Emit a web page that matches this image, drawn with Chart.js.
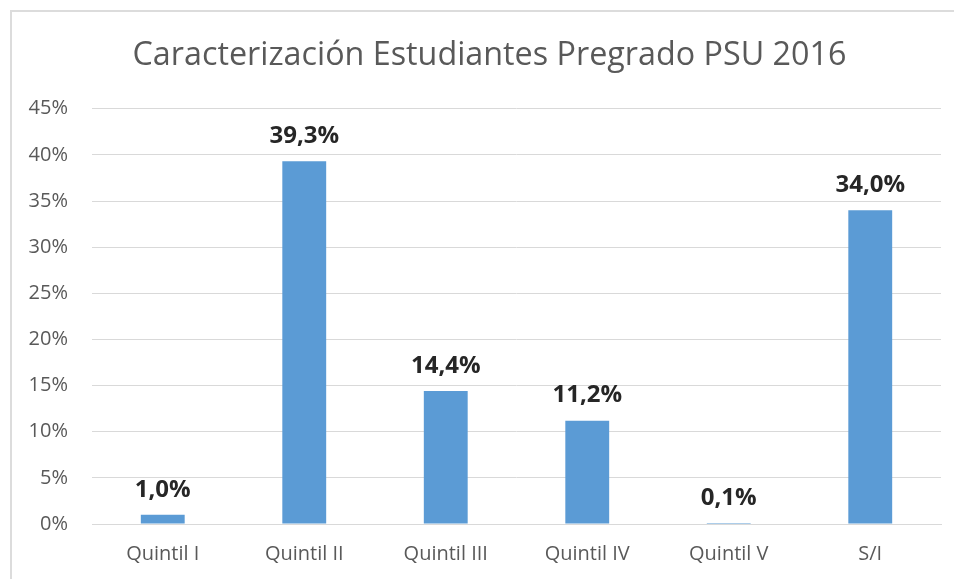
<!DOCTYPE html>
<html lang="es">
<head>
    <meta charset="UTF-8">
    <title>Caracterización Estudiantes Pregrado PSU 2016</title>
    <style>
        html, body {
            margin: 0;
            padding: 0;
            background: #fff;
            overflow: hidden;
        }

        #frame {
            position: absolute;
            left: 10px;
            top: 10px;
            width: 2000px;
            height: 2000px;
            border: 2px solid #dcdcdc;
        }

        #chart-box {
            position: absolute;
            left: 0;
            top: 0;
            width: 954px;
            height: 579px;
        }
    </style>
</head>
<body>
    <div id="frame"></div>
    <div id="chart-box">
        <canvas id="psu-chart"></canvas>
    </div>

    <script src="https://cdn.jsdelivr.net/npm/chart.js"></script>
    <script>
        const categories = ['Quintil I', 'Quintil II', 'Quintil III', 'Quintil IV', 'Quintil V', 'S/I'];
        const percentages = [1.0, 39.3, 14.4, 11.2, 0.1, 34.0];
        const yTicks = [0, 5, 10, 15, 20, 25, 30, 35, 40, 45];

        const fontName = "'Open Sans', sans-serif";

        // value labels above each bar, Excel style (comma decimal)
        const barLabels = {
            id: 'barLabels',
            afterLayout(chart) {
                // title in the original sits a bit right of the canvas centre
                if (chart.titleBlock) {
                    chart.titleBlock.left = 38;
                }
            },
            afterDatasetsDraw(chart) {
                const ctx = chart.ctx;
                const meta = chart.getDatasetMeta(0);
                ctx.save();
                ctx.font = `bold 24px ${fontName}`;
                ctx.fillStyle = '#262626';
                ctx.textAlign = 'center';
                ctx.textBaseline = 'middle';
                meta.data.forEach((bar, i) => {
                    const txt = percentages[i].toFixed(1).replace('.', ',') + '%';
                    ctx.fillText(txt, bar.x, bar.y - 25);
                });
                ctx.restore();
            }
        };

        const ctx = document.getElementById('psu-chart').getContext('2d');

        new Chart(ctx, {
            type: 'bar',
            data: {
                labels: categories,
                datasets: [{
                    label: 'PSU 2016',
                    data: percentages,
                    backgroundColor: '#5b9bd5',
                    borderWidth: 0,
                    categoryPercentage: 1.0,
                    barPercentage: 0.31
                }]
            },
            options: {
                responsive: true,
                maintainAspectRatio: false,
                animation: false,
                layout: {
                    padding: { left: 0, right: 13, top: 0, bottom: 0 }
                },
                plugins: {
                    legend: { display: false },
                    tooltip: { enabled: false },
                    title: {
                        display: true,
                        text: 'Caracterización Estudiantes Pregrado PSU 2016',
                        color: '#595959',
                        font: { family: fontName, size: 32.3, weight: 'normal', lineHeight: 1.2 },
                        padding: { top: 36, bottom: 34 }
                    }
                },
                scales: {
                    x: {
                        grid: { display: false },
                        border: { color: '#d9d9d9', width: 1 },
                        ticks: {
                            color: '#595959',
                            font: { family: fontName, size: 20 },
                            padding: 10
                        },
                        afterFit(scale) {
                            scale.height = 55;
                        }
                    },
                    y: {
                        min: 0,
                        max: 45,
                        afterBuildTicks(scale) {
                            scale.ticks = yTicks.map(v => ({ value: v }));
                        },
                        grid: {
                            color: '#d9d9d9',
                            lineWidth: 1,
                            drawTicks: false
                        },
                        border: { display: false },
                        ticks: {
                            color: '#595959',
                            font: { family: fontName, size: 20 },
                            padding: 24,
                            callback: v => v + '%'
                        },
                        afterFit(scale) {
                            scale.width = 92;
                        }
                    }
                }
            },
            plugins: [barLabels]
        });
    </script>
</body>
</html>
